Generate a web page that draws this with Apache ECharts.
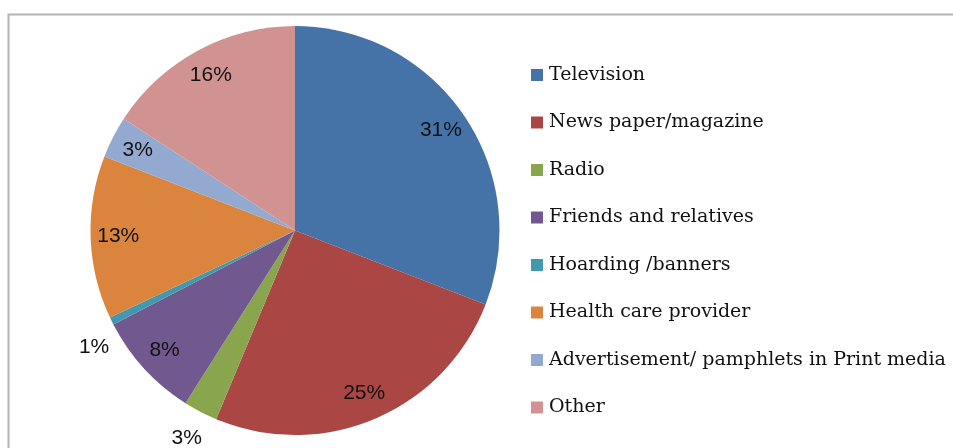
<!DOCTYPE html>
<html>
<head>
<meta charset="utf-8">
<script src="https://cdn.jsdelivr.net/npm/echarts@6/dist/echarts.min.js"></script>
<style>
html,body{margin:0;padding:0;background:#fff;}
#chart{width:953px;height:448px;}
</style>
</head>
<body>
<div id="chart"></div>
<script>
const categories = ["Television","News paper/magazine","Radio","Friends and relatives","Hoarding /banners","Health care provider","Advertisement/ pamphlets in Print media","Other"];
const values = [30.9, 25.4, 2.7, 8.4, 0.6, 12.9, 3.3, 15.8];
const colors = ["#4572A7","#AA4643","#89A54E","#71588F","#4198AF","#DB843D","#93A9CF","#D19392"];
const outsideLabelNames = ["Radio","Hoarding /banners"];

const chart = echarts.init(document.getElementById('chart'), null, {renderer:'canvas'});
const R = 204.5;
const center = [295, 230.5];
const fmt = p => Math.round(p.percent) + '%';
const labelFont = {fontFamily:'Liberation Sans', fontSize:21, color:'#111'};

const mainData = categories.map((c,i)=>({name:c, value:values[i], itemStyle:{color:colors[i]}}));
const innerLabelData = categories.map((c,i)=>({name:c, value:values[i],
  label:{show: outsideLabelNames.indexOf(c) < 0}}));
const outerLabelData = categories.map((c,i)=>({name:c, value:values[i],
  label: c === "Hoarding /banners" ? {show:true, offset:[9,13]} : {show: outsideLabelNames.indexOf(c) >= 0}}));

chart.setOption({
  animation:false,
  color: colors,
  graphic:[{type:'rect', left:6, top:12, shape:{width:1200, height:800},
    style:{fill:'none', stroke:'#b4b4b4', lineWidth:2}, z:-10}],
  legend:{
    orient:'vertical', left:531, top:63, padding:0,
    data: categories,
    icon:'rect', itemWidth:12, itemHeight:12, itemGap:23.5,
    textStyle:{fontFamily:'DejaVu Serif', fontSize:19, lineHeight:24, color:'#111', padding:[0,0,0,1]},
    selectedMode:false
  },
  series:[
    {type:'pie', radius:[0, R], center:center, startAngle:90, clockwise:true,
     avoidLabelOverlap:false, silent:true, data: mainData,
     label:{show:false}, labelLine:{show:false}, itemStyle:{borderWidth:0}},
    {type:'pie', radius:[R*0.7, R], center:center, startAngle:90, clockwise:true,
     avoidLabelOverlap:false, silent:true, data: innerLabelData,
     itemStyle:{color:'rgba(0,0,0,0)', borderWidth:0},
     label:Object.assign({position:'inside', formatter: fmt}, labelFont),
     labelLine:{show:false}},
    {type:'pie', radius:[R, R*1.26], center:center, startAngle:90, clockwise:true,
     avoidLabelOverlap:false, silent:true, data: outerLabelData,
     itemStyle:{color:'rgba(0,0,0,0)', borderWidth:0},
     label:Object.assign({position:'inside', formatter: fmt}, labelFont),
     labelLine:{show:false}}
  ]
});
</script>
</body>
</html>
